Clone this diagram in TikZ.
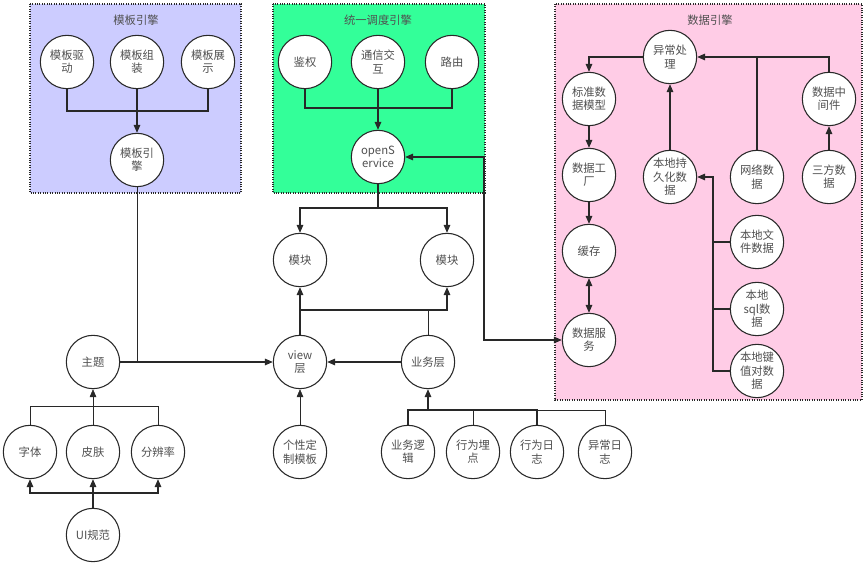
\documentclass[tikz,border=0pt]{standalone}
\usepackage{fontspec}
\setmainfont{Noto Sans CJK SC}
\usetikzlibrary{arrows.meta, calc}
\definecolor{tmplbg}{RGB}{204,204,255}
\definecolor{schedbg}{RGB}{51,255,153}
\definecolor{databg}{RGB}{255,204,230}
\definecolor{ink}{RGB}{40,40,40}
\definecolor{txt}{RGB}{80,80,80}
\tikzset{
  unit/.style={circle, draw=ink, thick, fill=white, minimum size=40pt,
               inner sep=0pt, align=center, font=\fontsize{8.5}{10}\selectfont, text=txt},
  engine/.style={draw=ink, densely dotted, thick},
  title/.style={font=\fontsize{8.5}{10}\selectfont, text=txt},
  arrow/.style={-{Triangle[length=6pt,width=5pt]}, thick, color=ink},
  link/.style={thick, color=ink},
}
\begin{document}
\begin{tikzpicture}[x=0.75pt, y=-0.75pt]
    \useasboundingbox (0,0) rectangle (868,566);
    % engine boxes
    \draw[engine, fill=tmplbg] (30,4) rectangle (241,193);
    \draw[engine, fill=schedbg] (273,4) rectangle (485,193);
    \draw[engine, fill=databg] (555,4) rectangle (862,400);
    \node[title] at (136,20) {模板引擎};
    \node[title] at (378,20) {统一调度引擎};
    \node[title] at (710,20) {数据引擎};

    % template engine
    \node[unit] (drive) at (67,62) {模板驱\\动};
    \node[unit] (build) at (137,62) {模板组\\装};
    \node[unit] (show) at (208,62) {模板展\\示};
    \node[unit] (tmpl) at (137,160) {模板引\\擎};
    \draw[link] (drive.south) |- (137,111);
    \draw[link] (show.south) |- (137,111);
    \draw[arrow] (build) -- (tmpl);

    % scheduling engine
    \node[unit] (auth) at (305,62) {鉴权};
    \node[unit] (comm) at (378,62) {通信交\\互};
    \node[unit] (route) at (452,62) {路由};
    \node[unit] (open) at (378,157) {openS\\ervice};
    \draw[link] (auth.south) |- (378,108);
    \draw[link] (route.south) |- (378,108);
    \draw[arrow] (comm) -- (open);

    % view side
    \node[unit] (modA) at (300,260) {模块};
    \node[unit] (modB) at (447,260) {模块};
    \node[unit] (view) at (300,362) {view\\层};
    \node[unit] (biz) at (428,362) {业务层};
    \node[unit] (custom) at (300,452) {个性定\\制模板};
    \node[unit] (theme) at (93,362) {主题};
    \draw[arrow] (open.south) -- (378,208) -| (modA.north);
    \draw[arrow] (378,208) -| (modB.north);
    \draw[arrow] (view) -- (modA);
    \draw[arrow] (view.north |- 0,310) -| (modB.south);
    \draw[link, thin] (biz.north) -- (428,310);
    \draw[arrow] (biz) -- (view);
    \draw[arrow] (theme) -- (view);
    \draw[link, thin] (tmpl.south) -- (137,362);
    \draw[arrow, thin] (custom) -- (view);

    % theme children
    \node[unit] (fontn) at (30,452) {字体};
    \node[unit] (skin) at (93,452) {皮肤};
    \node[unit] (res) at (158,452) {分辨率};
    \node[unit] (ui) at (93,535) {UI规范};
    \draw[link, thin] (fontn.north) |- (93,406);
    \draw[link, thin] (res.north) |- (93,406);
    \draw[arrow, thin] (skin) -- (theme);
    \draw[arrow] (ui) -- (skin);
    \draw[arrow] (93,493) -| (fontn.south);
    \draw[arrow] (93,493) -| (res.south);

    % business children
    \node[unit] (logic) at (408,452) {业务逻\\辑};
    \node[unit] (track) at (473,452) {行为埋\\点};
    \node[unit] (actlog) at (537,452) {行为日\\志};
    \node[unit] (errlog) at (605,452) {异常日\\志};
    \draw[link] (logic.north) |- (428,410);
    \draw[link, thin] (track.north) |- (428,410);
    \draw[link] (actlog.north) |- (428,410);
    \draw[link, thin] (errlog.north) |- (428,410);
    \draw[arrow] (428,410) -- (biz.south);

    % data engine
    \node[unit] (err) at (670,57) {异常处\\理};
    \node[unit] (model) at (589,99) {标准数\\据模型};
    \node[unit] (fact) at (589,175) {数据工\\厂};
    \node[unit] (cache) at (589,251) {缓存};
    \node[unit] (serv) at (589,340) {数据服\\务};
    \node[unit] (local) at (670,177) {本地持\\久化数\\据};
    \node[unit] (net) at (757,177) {网络数\\据};
    \node[unit] (mid) at (829,99) {数据中\\间件};
    \node[unit] (third) at (829,177) {三方数\\据};
    \node[unit] (file) at (757,242) {本地文\\件数据};
    \node[unit] (sql) at (757,309) {本地\\sql数\\据};
    \node[unit] (kv) at (757,371) {本地键\\值对数\\据};
    \draw[arrow] (err.west) -| (model.north);
    \draw[arrow] (model) -- (fact);
    \draw[arrow] (fact) -- (cache);
    \draw[{Triangle[length=6pt,width=5pt]}-{Triangle[length=6pt,width=5pt]}, thick, color=ink] (cache) -- (serv);
    \draw[arrow] (local) -- (err);
    \draw[arrow] (net.north) |- (err.east);
    \draw[link] (mid.north) |- (757,57);
    \draw[arrow] (third) -- (mid);
    \draw[link] (file.west) -| (713,177);
    \draw[link] (sql.west) -| (713,177);
    \draw[arrow] (kv.west) -| (713,177) -- (local.east);

    % open service to data service
    \draw[{Triangle[length=6pt,width=5pt]}-{Triangle[length=6pt,width=5pt]}, thick, color=ink]
      (open.east) -- (484,157) |- (serv.west);
\end{tikzpicture}
\end{document}
